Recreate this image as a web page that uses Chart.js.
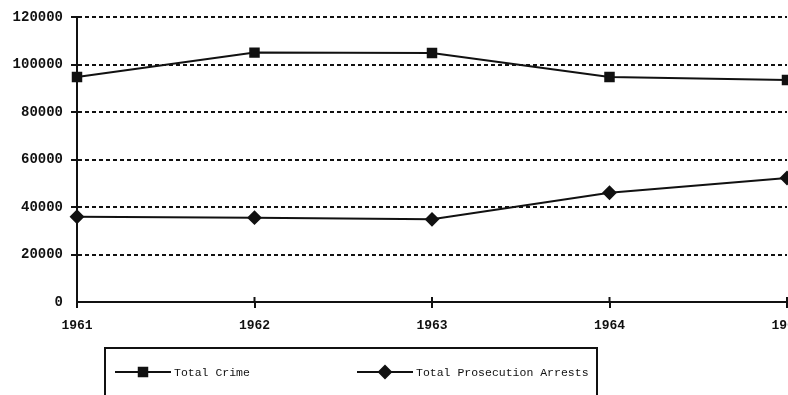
<!DOCTYPE html>
<html>
<head>
<meta charset="utf-8">
<script src="https://cdn.jsdelivr.net/npm/chart.js@4/dist/chart.umd.min.js"></script>
<style>
  html, body { margin: 0; padding: 0; background: #fff; overflow: hidden; }
  #wrap { width: 788px; height: 395px; overflow: hidden; }
</style>
</head>
<body>
<div id="wrap"><canvas id="crime-chart" width="822" height="395"></canvas></div>
<script>
const years = ['1961', '1962', '1963', '1964', '1965'];
const totalCrime = [94700, 105000, 104800, 94700, 93500];
const prosecutionArrests = [35900, 35500, 34800, 46000, 52200];
const yMax = 120000;
const yStep = 20000;

const monoFont = '"Liberation Mono", "DejaVu Sans Mono", monospace';

// Legend drawn as a framed box under the axis, like the original
const boxLegend = {
    id: 'boxLegend',
    afterDraw(chart) {
        const ctx = chart.ctx;
        ctx.save();
        ctx.strokeStyle = '#111';
        ctx.lineWidth = 2;
        ctx.strokeRect(105, 348, 492, 60);

        const items = [
            { x: 115, ds: chart.data.datasets[0] },
            { x: 357, ds: chart.data.datasets[1] }
        ];
        const y = 372;
        items.forEach(item => {
            ctx.beginPath();
            ctx.lineWidth = 2;
            ctx.moveTo(item.x, y);
            ctx.lineTo(item.x + 56, y);
            ctx.stroke();
            ctx.fillStyle = '#111';
            Chart.helpers.drawPoint(ctx, {
                pointStyle: item.ds.pointStyle,
                radius: item.ds.pointRadius,
                borderWidth: 1
            }, item.x + 28, y);
            ctx.font = '11.5px ' + monoFont;
            ctx.textBaseline = 'middle';
            ctx.fillText(item.ds.label, item.x + 59, y + 1);
        });
        ctx.restore();
    }
};

// small tick marks on the x axis that also poke up into the plot
const xTickUp = {
    id: 'xTickUp',
    afterDraw(chart) {
        const x = chart.scales.x;
        const ctx = chart.ctx;
        ctx.save();
        ctx.strokeStyle = '#111';
        ctx.lineWidth = 2;
        years.forEach((_, i) => {
            const px = x.getPixelForTick(i);
            ctx.beginPath();
            ctx.moveTo(px, x.top - 5);
            ctx.lineTo(px, x.top);
            ctx.stroke();
        });
        ctx.restore();
    }
};

const ctx = document.getElementById('crime-chart').getContext('2d');
new Chart(ctx, {
    type: 'line',
    data: {
        labels: years,
        datasets: [
            {
                label: 'Total Crime',
                data: totalCrime,
                borderColor: '#111',
                backgroundColor: '#111',
                borderWidth: 2,
                pointStyle: 'rect',
                pointRadius: 6,
                tension: 0
            },
            {
                label: 'Total Prosecution Arrests',
                data: prosecutionArrests,
                borderColor: '#111',
                backgroundColor: '#111',
                borderWidth: 2,
                pointStyle: 'rectRot',
                pointRadius: 6,
                tension: 0
            }
        ]
    },
    options: {
        responsive: false,
        animation: false,
        layout: { padding: { top: 17, right: 35, bottom: 53, left: 0 } },
        plugins: { legend: { display: false }, tooltip: { enabled: false } },
        scales: {
            x: {
                offset: false,
                grid: { drawOnChartArea: false, color: '#111', lineWidth: 2, tickLength: 6 },
                border: { color: '#111', width: 2 },
                ticks: {
                    color: '#111',
                    padding: 10,
                    maxRotation: 0,
                    font: { family: monoFont, size: 13, weight: 'bold' }
                },
                afterFit(scale) { scale.height = 40; }
            },
            y: {
                min: 0,
                max: yMax,
                grid: {
                    color: c => c.tick && c.tick.value === 0 ? 'rgba(0,0,0,0)' : '#111',
                    lineWidth: 2,
                    tickLength: 6
                },
                border: { color: '#111', width: 2, dash: [4, 3] },
                ticks: {
                    stepSize: yStep,
                    color: '#111',
                    padding: 8,
                    font: { family: monoFont, size: 14, weight: 'bold' },
                    callback: v => String(v)
                },
                afterFit(scale) { scale.width = 77; }
            }
        }
    },
    plugins: [boxLegend, xTickUp]
});
</script>
</body>
</html>
